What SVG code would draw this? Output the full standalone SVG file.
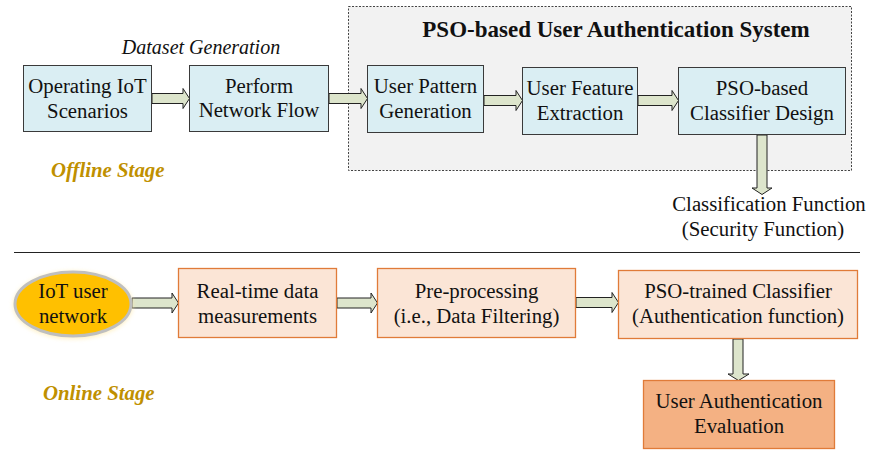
<svg xmlns="http://www.w3.org/2000/svg" width="869" height="451" viewBox="0 0 869 451">
<defs>
<style>
text{font-family:"Liberation Serif","Times New Roman",serif;fill:#111;font-size:20.8px;text-anchor:middle}
.blue{fill:#DAEEF3;stroke:#3a3a3a;stroke-width:1}
.peach{fill:#FBE5D6;stroke:#E07B39;stroke-width:1.3}
.dark{fill:#F4B183;stroke:#E07B39;stroke-width:1.3}
.arr{fill:#DDE5CC;stroke:#222;stroke-width:1}
.stage{font-weight:bold;font-style:italic;fill:#BF9000;text-anchor:start}
</style>
<filter id="glow" x="-20%" y="-20%" width="140%" height="140%"><feGaussianBlur stdDeviation="2"/></filter>
</defs>
<rect x="0" y="0" width="869" height="451" fill="#fff"/>
<g id="container">
<rect x="348.5" y="6.5" width="503" height="164" fill="#F2F2F2" stroke="#444" stroke-width="1" stroke-dasharray="2,1.5"/>
<text x="616" y="37" style="font-weight:bold;font-size:23px">PSO-based User Authentication System</text>
</g>
<text x="201" y="54" style="font-style:italic;font-size:20px">Dataset Generation</text>
<text class="stage" x="51" y="177">Offline Stage</text>
<text class="stage" x="43" y="400">Online Stage</text>
<line x1="14" y1="252.5" x2="860" y2="252.5" stroke="#222" stroke-width="1.2"/>
<g id="connectors">
<path class="arr" d="M152,93.5H183V88.5L189.5,98.5L183,108.5V103.5H152Z"/>
<path class="arr" d="M329,93.5H361V88.5L367.5,98.5L361,108.5V103.5H329Z"/>
<path class="arr" d="M484,95.5H516V90.5L522.5,100.5L516,110.5V105.5H484Z"/>
<path class="arr" d="M638,95.5H672V90.5L678.5,100.5L672,110.5V105.5H638Z"/>
<path class="arr" d="M757,135V188H752L762,194.5L772,188H767V135Z"/>
<path class="arr" d="M132,298H172V293L178.5,303L172,313V308H132Z"/>
<path class="arr" d="M337,298H371V293L377.5,303L371,313V308H337Z"/>
<path class="arr" d="M576,297.5H612V292.5L618.5,302.5L612,312.5V307.5H576Z"/>
<path class="arr" d="M733,339V374H728L738.5,380.5L749,374H743V339Z"/>
</g>
<g id="n1"><rect class="blue" x="23.5" y="65.5" width="128" height="66"/><text x="87.5" y="93">Operating IoT</text><text x="87.5" y="118">Scenarios</text></g>
<g id="n2"><rect class="blue" x="189.5" y="65.5" width="139" height="66"/><text x="259" y="93">Perform</text><text x="259" y="117">Network Flow</text></g>
<g id="n3"><rect class="blue" x="367.5" y="65.5" width="116" height="67"/><text x="425.5" y="93">User Pattern</text><text x="425.5" y="118">Generation</text></g>
<g id="n4"><rect class="blue" x="522.5" y="67.5" width="115" height="67"/><text x="580" y="95">User Feature</text><text x="580" y="120">Extraction</text></g>
<g id="n5"><rect class="blue" x="678.5" y="67.5" width="167" height="67"/><text x="762" y="95">PSO-based</text><text x="762" y="120">Classifier Design</text></g>
<g id="out"><text x="769" y="211">Classification Function</text><text x="763" y="236">(Security Function)</text></g>
<g id="iot">
<ellipse cx="73" cy="305" rx="60" ry="34" fill="#FFE8A0" opacity="0.6" filter="url(#glow)"/>
<ellipse cx="73" cy="304" rx="58" ry="32" fill="#FFC000" stroke="#BFBFBF" stroke-width="3"/>
<text x="73" y="298">IoT user</text><text x="73" y="323">network</text></g>
<g id="r1"><rect class="peach" x="178.5" y="268.5" width="158" height="69"/><text x="257.5" y="298">Real-time data</text><text x="257.5" y="323">measurements</text></g>
<g id="r2"><rect class="peach" x="377.5" y="268.5" width="198" height="69"/><text x="476.5" y="298">Pre-processing</text><text x="476.5" y="323">(i.e., Data Filtering)</text></g>
<g id="r3"><rect class="peach" x="618.5" y="270.5" width="239" height="68"/><text x="738" y="298">PSO-trained Classifier</text><text x="738" y="323">(Authentication function)</text></g>
<g id="r4"><rect class="dark" x="643.5" y="380.5" width="191" height="68"/><text x="739" y="408">User Authentication</text><text x="739" y="433">Evaluation</text></g>
</svg>
